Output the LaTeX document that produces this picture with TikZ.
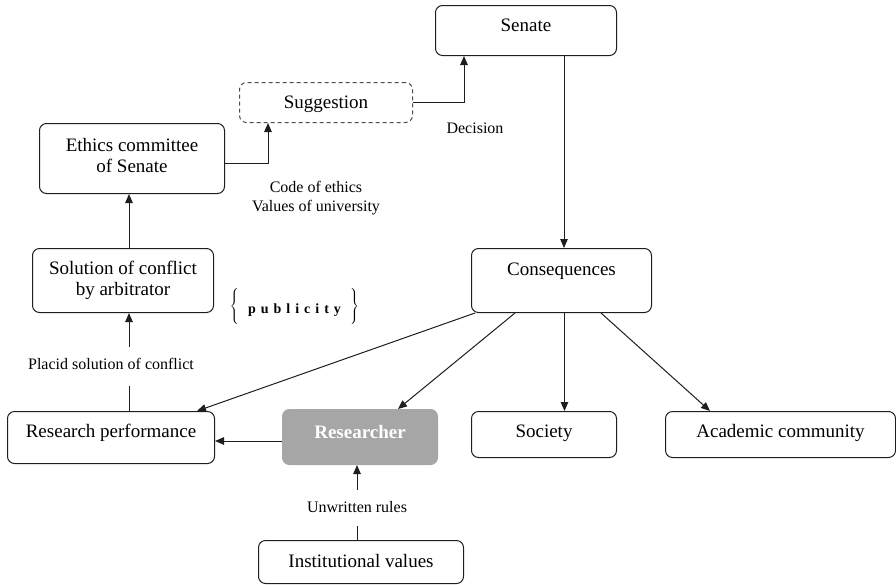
\documentclass[tikz,border=0pt]{standalone}
\usepackage{fontspec}
\setmainfont{Liberation Serif}
\usetikzlibrary{arrows.meta}
\definecolor{linecol}{RGB}{30,30,30}
\definecolor{researchgray}{RGB}{166,166,166}
\tikzset{
  box/.style={draw=linecol, line width=1pt, rounded corners=7pt, inner sep=0pt,
    anchor=north west, font=\fontsize{19}{21}\selectfont, align=center},
  lbl/.style={font=\fontsize{16}{19}\selectfont, inner sep=0pt, align=center},
  con/.style={draw=linecol, line width=1pt},
  arr/.style={con, -{Triangle[length=9pt,width=7.5pt]}},
}
\begin{document}
\begin{tikzpicture}[x=1pt,y=-1pt]
\useasboundingbox (0,0) rectangle (896,584);

% boxes
\node[box, minimum width=181pt, text height=26pt, text depth=24pt] (senate) at (435,5) {Senate};
\node[box, draw=black!70, dash pattern=on 4pt off 3pt, minimum width=173pt,
      text height=26pt, text depth=14pt] (sugg) at (239,82) {Suggestion};
\node[box, minimum width=185pt, minimum height=70pt] (ethics) at (39,123)
  {Ethics committee\\of Senate\rule[-6pt]{0pt}{0pt}};
\node[box, minimum width=181pt, minimum height=64pt] (solution) at (32,248) {Solution of conflict\\by arbitrator};
\node[box, minimum width=180pt, text height=27pt, text depth=37pt] (cons) at (471,248) {Consequences};
\node[box, minimum width=207pt, text height=26pt, text depth=26pt] (rp) at (7,411) {Research performance};
\node[box, draw=researchgray, fill=researchgray, text=white, font=\fontsize{19}{21}\selectfont\bfseries,
      minimum width=155pt, text height=29pt, text depth=26pt] (researcher) at (282,409) {Researcher};
\node[box, minimum width=145pt, text height=26pt, text depth=20pt] (society) at (471,411) {Society};
\node[box, minimum width=230pt, text height=26pt, text depth=20pt] (academic) at (665,411) {Academic community};
\node[box, minimum width=205pt, text height=27pt, text depth=16pt] (inst) at (258,540) {Institutional values};

% free labels
\node[lbl] (decision) at (475,128) {Decision};
\node[lbl] (codes) at (316,198) {Code of ethics\\Values of university};
\node[lbl] (placid) at (111,364) {Placid solution of conflict};
\node[lbl] (unwritten) at (357,507) {Unwritten rules};
\node[inner sep=0pt, anchor=base] (publicity) at (294.5,313)
  {\raisebox{4.5pt}{$\left\{\rule[-14.5pt]{0pt}{29pt}\right.$}\hspace{8pt}%
   {\fontsize{14}{14}\selectfont\bfseries p\hspace{5pt}u\hspace{5pt}b\hspace{5pt}l\hspace{5pt}i\hspace{5pt}c\hspace{5pt}i\hspace{5pt}t\hspace{5pt}y}%
   \hspace{8pt}\raisebox{4.5pt}{$\left.\rule[-14.5pt]{0pt}{29pt}\right\}$}};

% ends of the broken connectors around labels
\coordinate (pA) at (129,386);
\coordinate (pB) at (129,347);
\coordinate (uA) at (357,526);
\coordinate (uB) at (357,490);

% connectors
\draw[arr] ([yshift=-5pt]ethics.east) -| ([xshift=-58pt]sugg.south);
\draw[arr] (sugg.east) -| ([xshift=-62pt]senate.south);
\draw[arr] ([xshift=38pt]senate.south) -- ([xshift=38pt]senate.south |- cons.north);
\draw[arr] (solution.north -| pA) -- (ethics.south -| pA);
\draw[con] (rp.north -| pA) -- (pA);
\draw[arr] (pB) -- (solution.south -| pB);
\draw[arr] ([xshift=4pt]cons.south west) -- ([xshift=-18pt]rp.north east);
\draw[arr] ([xshift=44pt]cons.south west) -- ([xshift=-40pt]researcher.north east);
\draw[arr] ([xshift=3pt]cons.south) -- ([xshift=3pt]cons.south |- society.north);
\draw[arr] ([xshift=-51pt]cons.south east) -- ([xshift=45pt]academic.north west);
\draw[arr] ([yshift=-4pt]researcher.west) -- ([yshift=-4pt]researcher.west -| rp.east);
\draw[con] (inst.north -| uA) -- (uA);
\draw[arr] (uB) -- (researcher.south -| uB);
\end{tikzpicture}
\end{document}
